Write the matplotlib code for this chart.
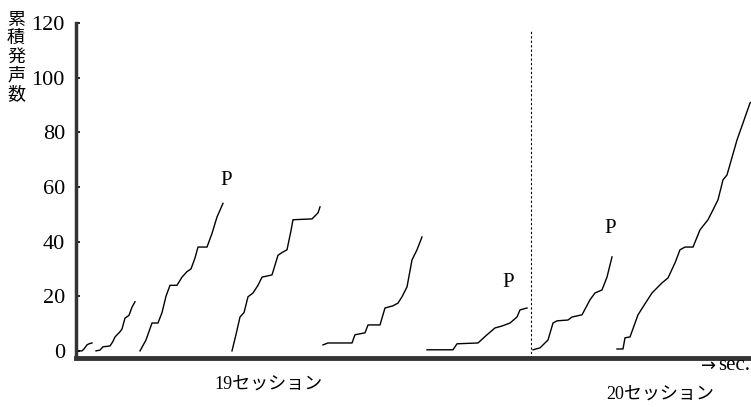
import matplotlib
matplotlib.use('Agg')
import matplotlib.pyplot as plt

plt.rcParams['font.family'] = ['Liberation Serif', 'Noto Sans CJK JP', 'DejaVu Sans']

# cumulative records, x in arbitrary time units, y = cumulative vocalizations
rec1_x = [0, 6, 8, 11, 13, 16]
rec1_y = [0, 0, 0.7, 2.2, 2.6, 2.9]
rec2_x = [20, 24, 27, 34, 37, 39, 44, 46, 49, 53, 56, 59]
rec2_y = [0, 0.3, 1.5, 1.8, 3.5, 5.1, 7, 8, 12, 13, 16, 18]
rec3_x = [64, 70, 76, 82, 86, 90, 94, 101, 106, 111, 115, 119, 122, 131, 136, 141, 147]
rec3_y = [0, 4, 10.2, 10.2, 14, 20, 24, 24, 27, 29, 30, 34, 38, 38, 43, 49, 54]
rec4_x = [156, 160, 164, 168, 172, 177, 182, 186, 196, 202, 206, 211, 215, 217, 236, 242, 244]
rec4_y = [0, 6, 12.4, 14, 19.8, 21.2, 24, 27, 27.8, 35, 36, 37, 44, 48, 48.3, 50.5, 52.7]
rec5_x = [247, 252, 276, 279, 289, 292, 304, 309, 317, 322, 326, 331, 336, 341, 346]
rec5_y = [2.2, 2.9, 2.9, 5.9, 6.6, 9.5, 9.5, 15.7, 16.5, 17.5, 19.8, 23.4, 33.3, 37, 41.7]
rec6_x = [351, 377, 381, 402, 411, 419, 426, 434, 441, 444, 451]
rec6_y = [0.4, 0.4, 2.6, 2.9, 5.9, 8.4, 9.1, 10.2, 12.4, 15, 15.7]
rec7_x = [457, 464, 472, 477, 481, 492, 496, 506, 514, 519, 526, 531, 536]
rec7_y = [0.4, 1.1, 4, 10.2, 11, 11.3, 12.4, 13.2, 18.7, 21.2, 22.3, 27, 34.4]
rec8_x = [541, 547, 549, 554, 562, 567, 576, 579, 586, 592, 599, 604, 609, 617, 624,
          632, 637, 642, 647, 651, 661, 667, 674, 675]
rec8_y = [0.7, 0.7, 4.8, 5.1, 13.2, 16.1, 21.2, 22.3, 24.9, 26.7, 32.2, 37, 38, 38, 44.3,
          48, 51.6, 55.3, 62.6, 64.4, 77.2, 83.4, 90.7, 91]
records = [(rec1_x, rec1_y), (rec2_x, rec2_y), (rec3_x, rec3_y), (rec4_x, rec4_y),
           (rec5_x, rec5_y), (rec6_x, rec6_y), (rec7_x, rec7_y), (rec8_x, rec8_y)]

session_split = 455
p_marks = [(150, 62.3), (432, 25), (534, 44.7)]
yticks = [0, 20, 40, 60, 80, 100, 120]

fig = plt.figure(figsize=(7.51, 4.07), dpi=100)
ax = fig.add_axes([76 / 751, 49 / 407, 675 / 751, 335 / 407])

for xs, ys in records:
    ax.plot(xs, ys, color='black', lw=1.0)

ax.axvline(session_split, ymin=0, ymax=0.98, color='black', lw=0.8, ls=(0, (2, 2)))

for px, py in p_marks:
    ax.text(px, py, 'P', fontsize=15, ha='center', va='center')

ax.set_xlim(0, 675)
ax.set_ylim(-2.6, 120)
ax.set_yticks(yticks)
ax.set_xticks([])
ax.tick_params(axis='y', direction='in', length=3, width=1.2, pad=8, labelsize=16)
ax.spines['top'].set_visible(False)
ax.spines['right'].set_visible(False)
ax.spines['left'].set_linewidth(2.5)
ax.spines['left'].set_color('#333333')
ax.spines['bottom'].set_linewidth(3.5)
ax.spines['bottom'].set_color('#333333')

fig.text(16 / 751, 1 - 57 / 407, '累\n積\n発\n声\n数', fontsize=13, ha='center', va='center',
         family=['Noto Sans CJK JP'], linespacing=1.05)
fig.text(268 / 751, 1 - 385 / 407, '19セッション', fontsize=13, ha='center', va='center')
fig.text(660 / 751, 1 - 395 / 407, '20セッション', fontsize=13, ha='center', va='center')
fig.text(716 / 751, 1 - 366 / 407, '→', fontsize=13, ha='right', va='center',
         family=['DejaVu Sans'])
fig.text(750 / 751, 1 - 366 / 407, 'sec.', fontsize=15, ha='right', va='center')

fig.savefig('out.png', dpi=100)
